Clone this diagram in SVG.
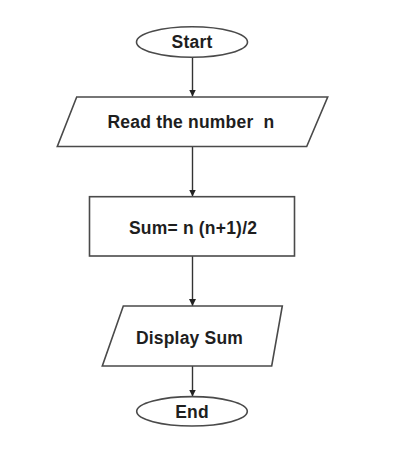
<svg xmlns="http://www.w3.org/2000/svg" width="400" height="470" viewBox="0 0 400 470">
<defs>
<style>
.s{fill:#fff;stroke:#4a4a4a;stroke-width:1.6}
.t{font-family:"Liberation Sans",Arial,sans-serif;font-weight:bold;font-size:17.5px;letter-spacing:0.2px;fill:#1e1e1e;text-anchor:middle;white-space:pre}
.c{stroke:#333;stroke-width:1.4;fill:none;marker-end:url(#ah)}
</style>
<marker id="ah" viewBox="0 0 10 10" refX="10" refY="5" markerWidth="7" markerHeight="7" markerUnits="userSpaceOnUse" orient="auto">
<path d="M0,0 L10,5 L0,10 z" fill="#222"/>
</marker>
</defs>
<rect width="400" height="470" fill="#fff"/>
<g id="connectors">
<line class="c" x1="192.5" y1="57.5" x2="192.5" y2="96.5"/>
<line class="c" x1="192.5" y1="146.5" x2="192.5" y2="196.5"/>
<line class="c" x1="192.5" y1="256" x2="192.5" y2="306"/>
<line class="c" x1="192.5" y1="366" x2="192.5" y2="396.5"/>
</g>
<g id="start">
<ellipse class="s" cx="192" cy="42" rx="55.5" ry="15.3"/>
<text class="t" x="192" y="48">Start</text>
</g>
<g id="read">
<polygon class="s" points="76.7,97 327.7,97 306.7,146.5 57.3,146.5"/>
<text class="t" x="191" y="128" xml:space="preserve">Read the number  n</text>
</g>
<g id="sum">
<rect class="s" x="89.5" y="196.7" width="205" height="59.3"/>
<text class="t" x="193" y="233.5">Sum= n (n+1)/2</text>
</g>
<g id="display">
<polygon class="s" points="123.3,306 282.3,306 271.7,366 102.3,366"/>
<text class="t" x="189.5" y="343.5">Display Sum</text>
</g>
<g id="end">
<ellipse class="s" cx="192" cy="411.3" rx="55.3" ry="14.7"/>
<text class="t" x="192" y="417.5">End</text>
</g>
</svg>
